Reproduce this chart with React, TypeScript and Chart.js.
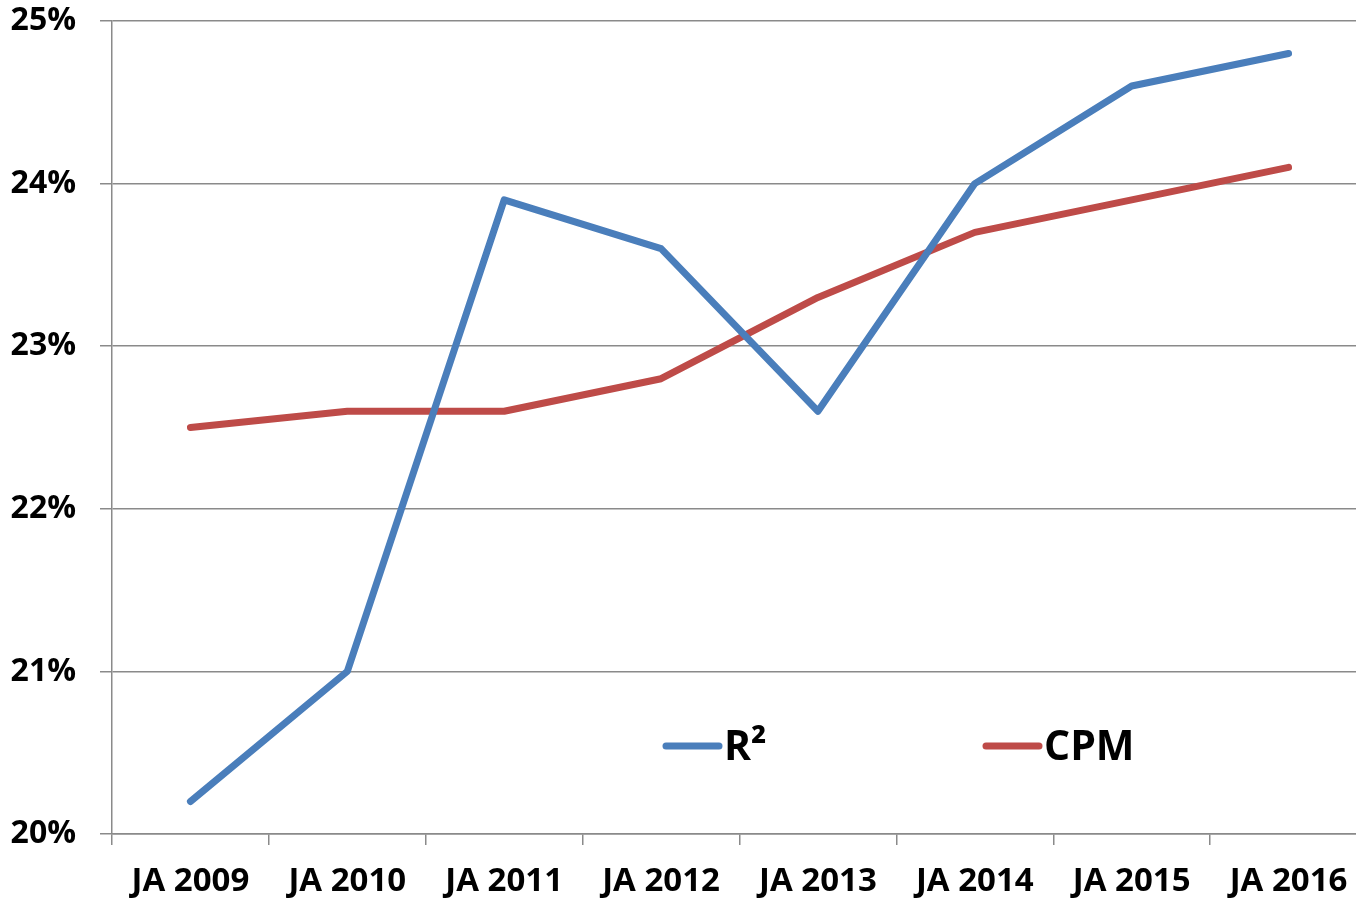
import React, { useEffect, useRef } from "react";
import { Chart, registerables } from "chart.js";

Chart.register(...registerables);

const categories = ["JA 2009", "JA 2010", "JA 2011", "JA 2012", "JA 2013", "JA 2014", "JA 2015", "JA 2016"];
const r2Values = [20.2, 21.0, 23.9, 23.6, 22.6, 24.0, 24.6, 24.8];
const cpmValues = [22.5, 22.6, 22.6, 22.8, 23.3, 23.7, 23.9, 24.1];
const seriesLabels = ["R²", "CPM"];
const seriesColors = ["#4A7EBB", "#BE4B48"];
const yMin = 20;
const yMax = 25;

const FONT = "'Open Sans', 'Liberation Sans', sans-serif";

const legendPlugin = {
  id: "insideLegend",
  afterDraw(chart: any) {
    const ctx = chart.ctx;
    const items = [
      { x0: 666, x1: 719, tx: 724 },
      { x0: 986, x1: 1039, tx: 1044 },
    ];
    ctx.save();
    chart.data.datasets.forEach((ds: any, i: number) => {
      const it = items[i];
      ctx.strokeStyle = ds.borderColor;
      ctx.lineWidth = 7;
      ctx.lineCap = "round";
      ctx.beginPath();
      ctx.moveTo(it.x0, 746);
      ctx.lineTo(it.x1, 746);
      ctx.stroke();
      ctx.fillStyle = "#000";
      ctx.font = `bold 41px ${FONT}`;
      ctx.textBaseline = "alphabetic";
      ctx.textAlign = "left";
      ctx.fillText(ds.label, it.tx, 760);
    });
    ctx.restore();
  },
};

export default function App() {
  const ref = useRef<HTMLCanvasElement | null>(null);

  useEffect(() => {
    document.body.style.margin = "0";
    document.body.style.overflow = "hidden";
    const canvas = ref.current;
    if (!canvas) return;
    const chart = new Chart(canvas, {
      type: "line",
      data: {
        labels: categories,
        datasets: [
          {
            label: seriesLabels[0],
            data: r2Values,
            borderColor: seriesColors[0],
            backgroundColor: seriesColors[0],
            borderWidth: 7,
            pointRadius: 0,
            tension: 0,
            borderCapStyle: "round",
            borderJoinStyle: "round",
          },
          {
            label: seriesLabels[1],
            data: cpmValues,
            borderColor: seriesColors[1],
            backgroundColor: seriesColors[1],
            borderWidth: 7,
            pointRadius: 0,
            tension: 0,
            borderCapStyle: "round",
            borderJoinStyle: "round",
          },
        ],
      },
      options: {
        responsive: false,
        animation: false,
        devicePixelRatio: 1,
        layout: { padding: { top: 21, right: 0, left: 0, bottom: 0 } },
        plugins: {
          legend: { display: false },
          tooltip: { enabled: false },
        },
        scales: {
          x: {
            type: "category",
            offset: true,
            afterFit: (s: any) => {
              s.height = 66;
              s.paddingLeft = 0;
              s.paddingRight = 0;
            },
            grid: {
              offset: true,
              drawOnChartArea: false,
              drawTicks: true,
              tickLength: 11,
              color: "#8a8a8a",
              lineWidth: 1.5,
            },
            border: { display: true, color: "#8a8a8a", width: 1.5 },
            ticks: {
              color: "#000",
              font: { family: FONT, weight: "bold", size: 33 },
              padding: 17,
              maxRotation: 0,
              autoSkip: false,
            },
          },
          y: {
            min: yMin,
            max: yMax,
            afterFit: (s: any) => {
              s.width = 112;
              s.paddingTop = 0;
              s.paddingBottom = 0;
            },
            grid: {
              color: "#8a8a8a",
              lineWidth: 1.5,
              drawTicks: true,
              tickLength: 12,
            },
            border: { display: true, color: "#8a8a8a", width: 1.5 },
            ticks: {
              stepSize: 1,
              color: "#000",
              padding: 24,
              font: { family: FONT, weight: "bold", size: 32 },
              callback: (v: any) => `${v}%`,
            },
          },
        },
      },
      plugins: [legendPlugin],
    } as any);
    return () => chart.destroy();
  }, []);

  return (
    <div style={{ width: 1356, height: 900, overflow: "hidden", position: "relative" }}>
      <canvas ref={ref} width={1367} height={900} style={{ display: "block", width: 1367, height: 900 }} />
    </div>
  );
}
